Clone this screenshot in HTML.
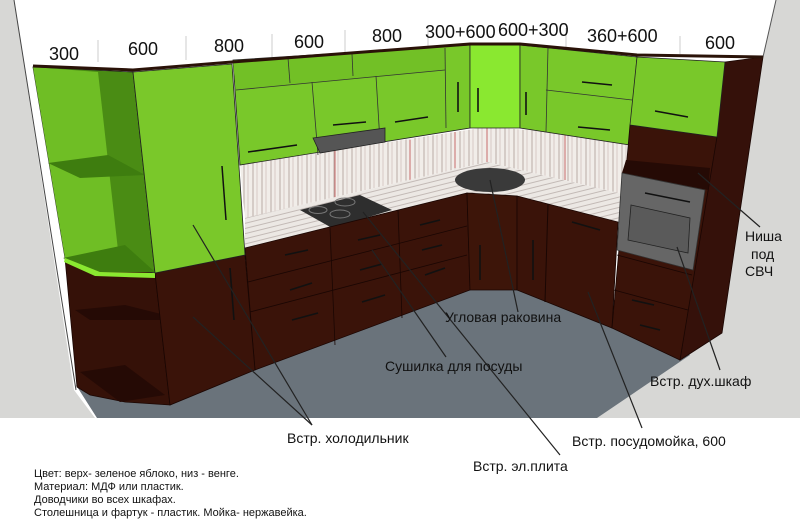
<!DOCTYPE html>
<html><head><meta charset="utf-8"><style>
html,body{margin:0;padding:0;background:#fff;width:800px;height:524px;overflow:hidden}
svg{display:block}
text{font-family:"Liberation Sans",Arial,sans-serif;fill:#111}
</style></head><body>
<svg width="800" height="524" viewBox="0 0 800 524" xmlns="http://www.w3.org/2000/svg">
<defs>
<pattern id="bs" width="9" height="60" patternUnits="userSpaceOnUse">
<rect width="9" height="60" fill="#f1ede9"/>
<line x1="1" y1="0" x2="1" y2="60" stroke="#b9aaa5" stroke-width="1"/>
<line x1="5" y1="0" x2="5" y2="60" stroke="#d8c9c5" stroke-width="1"/>
</pattern>
<pattern id="ct" width="40" height="5" patternUnits="userSpaceOnUse" patternTransform="rotate(-14)">
<rect width="40" height="5" fill="#ece8e4"/>
<line x1="0" y1="1" x2="40" y2="1" stroke="#c3bab6" stroke-width="1"/>
</pattern>
</defs>
<rect width="800" height="524" fill="#fff"/>
<!-- walls -->
<polygon points="0,0 14,0 74,390 95,418 0,418" fill="#d7d7d5"/>
<polygon points="18,0 24,0 84,388 78,388" fill="#fff"/>
<line x1="14" y1="0" x2="76" y2="390" stroke="#444" stroke-width="1"/>
<polygon points="776,0 800,0 800,418 597,418 700,300 763,57" fill="#d7d7d5"/>
<line x1="776" y1="0" x2="763" y2="57" stroke="#555"/>
<!-- floor -->
<polygon points="76,385 97,418 597,418 690,355 600,290 470,285 300,300 150,390" fill="#6a737b"/>
<!-- dimension ticks -->
<g stroke="#ccc" stroke-width="1">
<line x1="98" y1="40" x2="98" y2="62"/><line x1="186" y1="36" x2="186" y2="60"/><line x1="272" y1="34" x2="272" y2="58"/>
<line x1="345" y1="30" x2="345" y2="52"/><line x1="428" y1="26" x2="428" y2="46"/><line x1="566" y1="28" x2="566" y2="48"/>
<line x1="680" y1="36" x2="680" y2="54"/>
</g>
<g font-size="18">
<text x="49" y="60">300</text><text x="128" y="55">600</text><text x="214" y="52">800</text>
<text x="294" y="48">600</text><text x="372" y="42">800</text><text x="425" y="38">300+600</text>
<text x="498" y="36">600+300</text><text x="587" y="42">360+600</text><text x="705" y="49">600</text>
</g>
<!-- backsplash -->
<polygon points="240,165 487,127 487,162 245,218" fill="url(#bs)"/>
<polygon points="487,127 627,137 627,195 487,162" fill="url(#bs)"/>
<g stroke="#c86a6a" stroke-width="1">
<line x1="335" y1="150" x2="335" y2="200"/><line x1="410" y1="140" x2="410" y2="180"/>
<line x1="455" y1="132" x2="455" y2="168"/><line x1="487" y1="127" x2="487" y2="162"/>
<line x1="565" y1="132" x2="565" y2="180"/>
</g>
<!-- countertops -->
<polygon points="245,218 487,162 467,193 245,248" fill="url(#ct)"/>
<polygon points="487,162 627,195 618,222 517,197 467,193" fill="url(#ct)"/>
<polygon points="300,210 360,195 392,210 332,228" fill="#2e2e2e"/>
<ellipse cx="318" cy="210" rx="9" ry="3.5" fill="none" stroke="#777"/>
<ellipse cx="345" cy="202" rx="10" ry="4" fill="none" stroke="#777"/>
<ellipse cx="340" cy="214" rx="10" ry="4" fill="none" stroke="#777"/>
<ellipse cx="490" cy="180" rx="35" ry="12" fill="#3a3a3a"/>
<!-- lower cabinets -->
<polygon points="245,248 467,193 470,290 255,370" fill="#3a1309" stroke="#1a0603" stroke-width=".8"/>
<g stroke="#1a0603" stroke-width=".8">
<line x1="330" y1="228" x2="335" y2="345"/><line x1="398" y1="210" x2="402" y2="318"/>
<line x1="248" y1="282" x2="467" y2="226"/><line x1="250" y1="312" x2="467" y2="255"/>
</g>
<polygon points="467,193 517,196 517,290 470,290" fill="#3d1509" stroke="#1a0603" stroke-width=".8"/>
<polygon points="517,196 618,222 612,328 517,290" fill="#3a1309" stroke="#1a0603" stroke-width=".8"/>
<line x1="548" y1="204" x2="545" y2="302" stroke="#1a0603"/>
<!-- left round unit lower -->
<polygon points="65,258 155,273 170,405 125,402 90,395 77,387" fill="#351108" stroke="#1a0603" stroke-width=".8"/>
<polygon points="75,310 125,305 165,315 160,320 90,320" fill="#250a05"/>
<polygon points="80,372 125,365 165,395 120,402" fill="#250a05"/>
<polygon points="155,273 245,255 255,370 170,405" fill="#3a1309" stroke="#1a0603" stroke-width=".8"/>
<!-- left open shelf green -->
<polygon points="33,67 133,72 155,273 65,258" fill="#4a8c14" stroke="#222" stroke-width=".8"/>
<polygon points="33,67 98,72 120,268 65,258" fill="#6fbe25"/>
<polygon points="48,163 108,155 145,175 80,178" fill="#3e7d0f"/>
<polygon points="63,258 125,245 155,272 100,272" fill="#3e7d0f"/>
<polygon points="65,258 100,272 155,273 155,278 95,276 64,262" fill="#8ae830"/>
<!-- tall green -->
<polygon points="133,72 232,64 245,255 155,273" fill="#7ac82a" stroke="#222" stroke-width=".8"/>
<line x1="222" y1="166" x2="226" y2="220" stroke="#111" stroke-width="1.5"/>
<!-- upper cabinets mid -->
<polygon points="233,60 470,45 470,128 240,165" fill="#79c82a" stroke="#222" stroke-width=".8"/>
<polygon points="233,62 445,48 445,70 236,90" fill="#72c026"/>
<g stroke="#333" stroke-width=".8">
<line x1="236" y1="90" x2="445" y2="70"/><line x1="312" y1="82" x2="318" y2="155"/>
<line x1="376" y1="76" x2="380" y2="142"/><line x1="288" y1="58" x2="290" y2="83"/>
<line x1="352" y1="54" x2="353" y2="76"/><line x1="445" y1="48" x2="446" y2="128"/>
</g>
<polygon points="313,138 385,128 385,142 320,153" fill="#555" stroke="#222" stroke-width=".8"/>
<g stroke="#111" stroke-width="1.6">
<line x1="248" y1="152" x2="297" y2="145"/><line x1="333" y1="125" x2="366" y2="122"/>
<line x1="395" y1="122" x2="428" y2="117"/><line x1="458" y1="82" x2="458" y2="112"/>
</g>
<polygon points="470,45 520,45 520,128 470,128" fill="#8ae830" stroke="#222" stroke-width=".8"/>
<line x1="478" y1="88" x2="478" y2="112" stroke="#111" stroke-width="1.6"/>
<polygon points="520,45 637,57 630,145 520,128" fill="#79c82a" stroke="#222" stroke-width=".8"/>
<g stroke="#333" stroke-width=".8"><line x1="548" y1="48" x2="546" y2="132"/><line x1="546" y1="90" x2="632" y2="100"/></g>
<g stroke="#111" stroke-width="1.6">
<line x1="582" y1="82" x2="612" y2="85"/><line x1="578" y1="127" x2="610" y2="130"/><line x1="526" y1="92" x2="526" y2="115"/>
</g>
<!-- right column -->
<polygon points="725,62 763,57 722,333 680,360" fill="#35110a" stroke="#1a0603" stroke-width=".8"/>
<polygon points="630,125 717,137 680,360 612,328" fill="#3a1309" stroke="#1a0603" stroke-width=".8"/>
<polygon points="637,57 725,62 717,137 630,125" fill="#79c82a" stroke="#222" stroke-width=".8"/>
<line x1="655" y1="111" x2="688" y2="117" stroke="#111" stroke-width="1.6"/>
<polygon points="626,160 710,168 708,190 622,173" fill="#250a05"/>
<polygon points="622,173 705,190 693,270 617,250" fill="#666" stroke="#333" stroke-width=".8"/>
<polygon points="631,205 690,218 688,253 628,240" fill="#5a5a5a" stroke="#222" stroke-width=".8"/>
<line x1="645" y1="193" x2="690" y2="202" stroke="#111" stroke-width="1.6"/>
<g stroke="#1a0603" stroke-width=".8"><line x1="614" y1="290" x2="688" y2="310"/><line x1="617" y1="255" x2="692" y2="275"/></g>
<!-- top counter band -->
<polyline points="33,66 133,70 232,62 470,44 520,44 637,55 763,57" fill="none" stroke="#2a1208" stroke-width="3"/>
<!-- lower handles -->
<g stroke="#111" stroke-width="1.6">
<line x1="285" y1="255" x2="308" y2="250"/><line x1="290" y1="290" x2="312" y2="283"/><line x1="292" y1="320" x2="318" y2="313"/>
<line x1="358" y1="240" x2="380" y2="235"/><line x1="360" y1="270" x2="382" y2="264"/><line x1="362" y1="302" x2="385" y2="295"/>
<line x1="420" y1="225" x2="440" y2="220"/><line x1="422" y1="250" x2="442" y2="245"/><line x1="425" y1="275" x2="445" y2="268"/>
<line x1="480" y1="245" x2="480" y2="280"/><line x1="533" y1="240" x2="533" y2="280"/>
<line x1="572" y1="222" x2="600" y2="230"/><line x1="230" y1="268" x2="234" y2="320"/>
<line x1="632" y1="300" x2="654" y2="305"/><line x1="640" y1="325" x2="660" y2="330"/>
</g>
<!-- leader lines -->
<g stroke="#222" stroke-width="1.2" fill="none">
<line x1="193" y1="225" x2="312" y2="425"/><line x1="193" y1="317" x2="312" y2="425"/>
<line x1="363" y1="212" x2="560" y2="455"/>
<line x1="372" y1="250" x2="446" y2="357"/>
<line x1="490" y1="180" x2="518" y2="312"/>
<line x1="588" y1="292" x2="642" y2="428"/>
<line x1="677" y1="247" x2="720" y2="370"/>
<line x1="698" y1="173" x2="760" y2="227"/>
</g>
<!-- labels -->
<g font-size="14">
<text x="445" y="322">Угловая раковина</text>
<text x="385" y="371">Сушилка для посуды</text>
<text x="650" y="386">Встр. дух.шкаф</text>
<text x="287" y="443">Встр. холодильник</text>
<text x="572" y="446">Встр. посудомойка, 600</text>
<text x="473" y="471">Встр. эл.плита</text>
<text x="745" y="241">Ниша</text>
<text x="751" y="259">под</text>
<text x="745" y="276">СВЧ</text>
</g>
<g font-size="11">
<text x="34" y="477">Цвет: верх- зеленое яблоко, низ - венге.</text>
<text x="34" y="490">Материал: МДФ или пластик.</text>
<text x="34" y="503">Доводчики во всех шкафах.</text>
<text x="34" y="516">Столешница и фартук - пластик. Мойка- нержавейка.</text>
</g>
</svg>
</body></html>
